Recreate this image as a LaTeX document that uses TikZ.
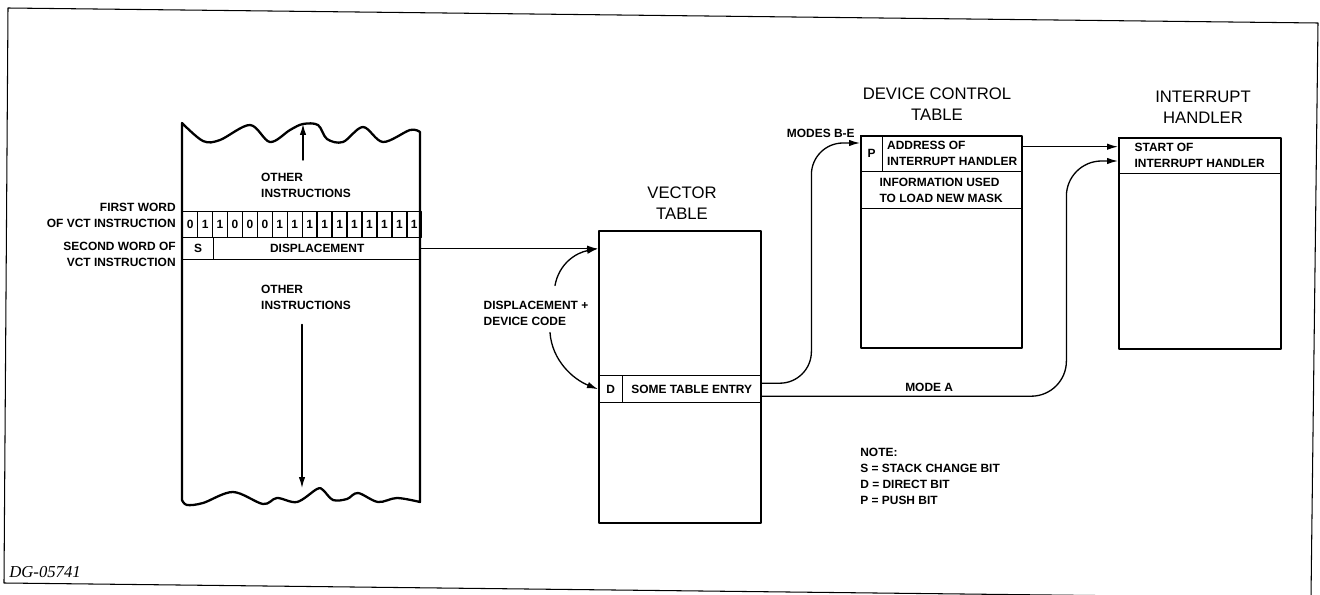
\documentclass[tikz,border=0pt]{standalone}
\usepackage{fontspec}
\setmainfont{Liberation Sans}
\newfontfamily\dgfont{Liberation Serif}
\usetikzlibrary{arrows.meta,calc}

\begin{document}
\begin{tikzpicture}[x=0.02cm, y=-0.02cm, >={Latex[length=2.2mm,width=1.3mm]},
	line join=round, line cap=round,
	txt/.style={font=\fontsize{6.8}{9}\selectfont\bfseries, inner sep=0pt, align=left},
	ttl/.style={font=\fontsize{9.5}{12}\selectfont, inner sep=0pt, align=center},
	sz/.style 2 args={minimum width=#1*0.02cm, minimum height=#2*0.02cm, anchor=north west},
	cell/.style={draw, line width=0.8pt, inner sep=0pt, font=\fontsize{6.8}{9}\selectfont\bfseries, align=left},
	box/.style={draw, line width=1.1pt, inner sep=0pt},
	conn/.style={->, line width=0.75pt}]
	\useasboundingbox (0,0) rectangle (1320,595);
	\def\bw{14.94} %width of one bit
	% frame, slightly turned as in the print
	\draw[line width=0.6pt] (8,8) -- (1318,23) -- (1311,598) -- (4,583) -- cycle;
	% memory
	\draw[line width=1.3pt] (182,500) -- (182,123)
		-- plot[smooth, tension=0.55] coordinates {(182,123) (203,141) (220,140) (250,125) (270,142) (290,130) (303,124) (318,125) (327,139) (343,142) (363,127) (383,142) (410,130) (420,132)}
		-- (420,502)
		-- plot[smooth, tension=0.55] coordinates {(420,502) (397,498) (378,502) (358,493) (347,499) (333,500) (323,490) (317,489) (297,502) (277,498) (263,504) (233,492) (203,503) (187,505) (182,500)};
	\coordinate (wtop) at (303,124);
	\coordinate (wbot) at (302,488);
	\foreach \b [count=\i from 0] in {0,1,1,0,0,0,1,1,1,1,1,1,1,1,1,1}
		\node[cell, sz={\bw}{26}] (b\i) at (182+\bw*\i,211) {\b};
	\node[cell, sz={31}{22}] (sbit) at (182,237) {S};
	\node[cell, sz={207}{22}] (disp) at (213,237) {DISPLACEMENT};
	\node[txt] (oth1) at (306,185) {OTHER\\INSTRUCTIONS};
	\node[txt] (oth2) at (306,297) {OTHER\\INSTRUCTIONS};
	\draw[conn, shorten <=2.5mm] (wtop |- oth1.north) -- (wtop);
	\draw[conn, shorten <=3mm] (wbot |- oth2.south) -- (wbot);
	\node[txt, align=right, anchor=east] (fword) at (176,215) {FIRST WORD\\OF VCT INSTRUCTION};
	\node[txt, align=right, anchor=east] (sword) at (176,254) {SECOND WORD OF\\VCT INSTRUCTION};
	% vector table
	\node[box, sz={162}{292}] (vt) at (598,230) {};
	\node[ttl] (vttl) at (682,203) {VECTOR\\TABLE};
	\node[cell, sz={24}{27}] (dbit) at (598,375) {D};
	\node[cell, sz={138}{27}] (entry) at (622,375) {SOME TABLE ENTRY};
	\node[txt] (dcode) at (536,313) {DISPLACEMENT +\\DEVICE CODE};
	\draw[conn] (disp.east) -- (disp.east -| vt.west);
	\draw[conn] ([xshift=0.38cm, yshift=0.3cm]dcode.north) .. controls +(4,-22) and +(-22,4) .. (disp.east -| vt.west);
	\draw[conn] ([xshift=0.28cm, yshift=-0.14cm]dcode.south) .. controls +(2,28) and +(-25,-10) .. (dbit.west);
	% device control table
	\node[box, sz={161}{212}] (dct) at (860,135) {};
	\node[ttl] (dcttl) at (937,104) {DEVICE CONTROL\\TABLE};
	\node[cell, sz={22}{36}] (pbit) at (860,135) {P};
	\node[cell, sz={139}{36}] (addr) at (882,135) {ADDRESS OF\\INTERRUPT HANDLER};
	\node[cell, sz={161}{37}] (mask) at (860,171) {INFORMATION USED\\TO LOAD NEW MASK};
	\node[txt, anchor=east] (modes) at ([xshift=-0.1cm, yshift=0.04cm]dct.north west) {MODES B-E};
	% interrupt handler
	\node[box, sz={162}{211}] (ih) at (1118,137) {};
	\node[ttl] (ihttl) at (1203,107) {INTERRUPT\\HANDLER};
	\node[cell, sz={162}{36}] (start) at (1118,137) {START OF\\INTERRUPT HANDLER};
	% links
	\draw[conn, rounded corners=18] ([yshift=0.12cm]entry.east) -- ++(50,0) |- ([yshift=-0.16cm]dct.north west);
	\draw[conn, rounded corners=20] ([yshift=-0.14cm]entry.east) -- node[txt, above=2.5pt, pos=0.55] (modea) {MODE A} ++(305,0) |- ([yshift=-0.48cm]ih.north west);
	\draw[conn] ([yshift=0.14cm]addr.east) coordinate (adr) -- (adr -| ih.west);
	\node[txt, anchor=north west] (note) at (860,448) {NOTE:\\S = STACK CHANGE BIT\\D = DIRECT BIT\\P = PUSH BIT};
	\node[font=\dgfont\itshape\fontsize{9.5}{11}\selectfont, anchor=west, inner sep=0pt] (dg) at (9,572) {DG-05741};
\end{tikzpicture}
\end{document}
